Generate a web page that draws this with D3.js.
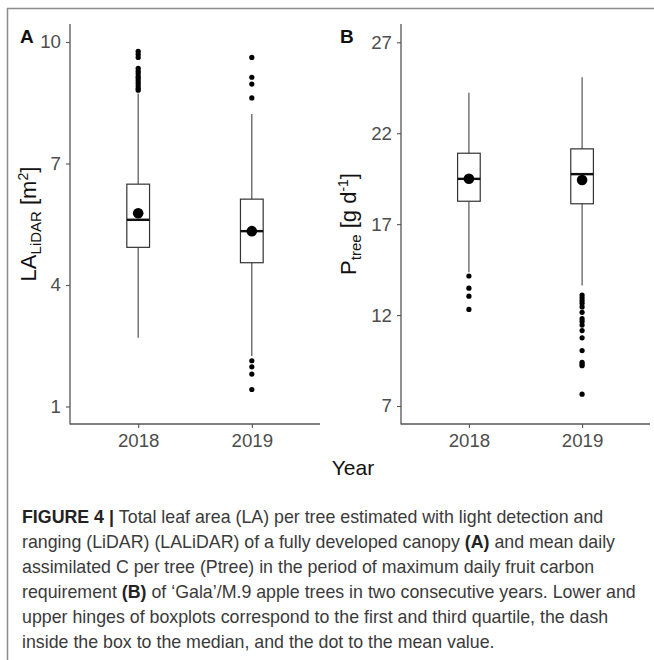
<!DOCTYPE html>
<html lang="en">
<head>
<meta charset="UTF-8">
<script src="https://d3js.org/d3.v7.min.js"></script>
<style>
  body { margin: 0; background: #fff; }
  text { font-family: "Liberation Sans", Arial, sans-serif; }
</style>
<title>Figure 4</title>
</head>
<body>
<div id="chart"></div>
<script>
    //Data
    const years = ["2018", "2019"];
    // panel A: LA LiDAR [m2]
    const laLower = [2.70, 2.25];
    const laQ1 = [4.93, 4.55];
    const laMedian = [5.61, 5.33];
    const laQ3 = [6.49, 6.12];
    const laUpper = [8.73, 8.22];
    const laMean = [5.77, 5.33];
    const laOut2018 = [9.77, 9.70, 9.62, 9.35, 9.28, 9.22, 9.15, 9.10, 9.04, 8.98, 8.92, 8.86, 8.81];
    const laOut2019 = [9.62, 9.13, 8.96, 8.62, 2.13, 1.98, 1.80, 1.42];
    const laTicks = [1, 4, 7, 10];
    // panel B: P tree [g d-1]
    const pLower = [14.35, 13.63];
    const pQ1 = [18.26, 18.12];
    const pMedian = [19.49, 19.75];
    const pQ3 = [20.90, 21.14];
    const pUpper = [24.23, 25.08];
    const pMean = [19.50, 19.43];
    const pOut2018 = [14.15, 13.48, 13.04, 12.31];
    const pOut2019 = [13.10, 12.95, 12.80, 12.65, 12.45, 12.15, 11.80, 11.65, 11.45, 11.15, 10.75, 10.05, 9.40, 9.30, 9.22, 7.65];
    const pTicks = [7, 12, 17, 22, 27];

    const captionLines = [
        [["FIGURE 4 | ", true], ["Total leaf area (LA) per tree estimated with light detection and", false]],
        [["ranging (LiDAR) (LALiDAR) of a fully developed canopy ", false], ["(A)", true], [" and mean daily", false]],
        [["assimilated C per tree (Ptree) in the period of maximum daily fruit carbon", false]],
        [["requirement ", false], ["(B)", true], [" of \u2018Gala\u2019/M.9 apple trees in two consecutive years. Lower and", false]],
        [["upper hinges of boxplots correspond to the first and third quartile, the dash", false]],
        [["inside the box to the median, and the dot to the mean value.", false]]
    ];

    //Variable
    const width = 654;
    const height = 660;
    const plotTop = 24, plotBottom = 424;

    const svg = d3.select('#chart')
        .append('svg')
        .attr('width', width)
        .attr('height', height);

    //-Frame
    svg.append('line').attr('x1', 7.5).attr('x2', 7.5).attr('y1', 8).attr('y2', height)
        .attr('stroke', '#8c8c8c').attr('stroke-width', 1.5);
    svg.append('line').attr('x1', 7).attr('x2', width).attr('y1', 8.5).attr('y2', 8.5)
        .attr('stroke', '#8c8c8c').attr('stroke-width', 1.5);

    function panel(opt) {
        const g = svg.append('g');
        const x = d3.scalePoint().domain(years).range([opt.x0, opt.x1]).padding(0.6);
        const y = d3.scaleLinear().domain(opt.tickRef).range(opt.tickPx);
        const bw = x.step() * 0.2;

        //-Axes
        const yAxis = d3.axisLeft(y).tickValues(opt.ticks).tickSize(4).tickPadding(5).tickSizeOuter(0);
        const gy = g.append('g').attr('transform', `translate(${opt.x0},0)`).call(yAxis);
        gy.select('.domain').remove();
        g.append('line').attr('x1', opt.x0).attr('x2', opt.x0).attr('y1', plotTop).attr('y2', plotBottom + 0.6)
            .attr('stroke', '#555').attr('stroke-width', 1.3);
        const xAxis = d3.axisBottom(x).tickSize(4).tickPadding(6).tickSizeOuter(0);
        const gx = g.append('g').attr('transform', `translate(0,${plotBottom})`).call(xAxis);
        gx.select('.domain').remove();
        g.append('line').attr('x1', opt.x0).attr('x2', opt.x1).attr('y1', plotBottom).attr('y2', plotBottom)
            .attr('stroke', '#555').attr('stroke-width', 1.3);
        [gx, gy].forEach(a => {
            a.selectAll('.tick line').attr('stroke', '#555').attr('stroke-width', 1.1);
            a.selectAll('.tick text').attr('fill', '#4d4d4d').style('font-size', '18.7px');
        });

        //-Boxes
        const idx = years.map((d, i) => i);
        g.selectAll('.whisker').data(idx).enter().append('line')
            .attr('x1', i => x(years[i])).attr('x2', i => x(years[i]))
            .attr('y1', i => y(opt.upper[i])).attr('y2', i => y(opt.lower[i]))
            .attr('stroke', '#444').attr('stroke-width', 1.1);
        g.selectAll('.box').data(idx).enter().append('rect')
            .attr('x', i => x(years[i]) - bw / 2).attr('width', bw)
            .attr('y', i => y(opt.q3[i])).attr('height', i => y(opt.q1[i]) - y(opt.q3[i]))
            .attr('fill', '#fff').attr('stroke', '#333').attr('stroke-width', 1.2);
        g.selectAll('.median').data(idx).enter().append('line')
            .attr('x1', i => x(years[i]) - bw / 2).attr('x2', i => x(years[i]) + bw / 2)
            .attr('y1', i => y(opt.median[i])).attr('y2', i => y(opt.median[i]))
            .attr('stroke', '#111').attr('stroke-width', 2.4);
        const outs = [];
        opt.outliers.forEach((arr, i) => arr.forEach(v => outs.push([years[i], v])));
        g.selectAll('.out').data(outs).enter().append('circle')
            .attr('cx', o => x(o[0])).attr('cy', o => y(o[1])).attr('r', 2.6).attr('fill', '#000');
        g.selectAll('.mean').data(idx).enter().append('circle')
            .attr('cx', i => x(years[i])).attr('cy', i => y(opt.mean[i])).attr('r', 5.3).attr('fill', '#000');

        //-Panel letter
        g.append('text').attr('x', opt.letterX).attr('y', 43).text(opt.letter)
            .style('font-size', '19px').style('font-weight', 'bold').attr('fill', '#111');

        //-Y title
        const t = g.append('text')
            .attr('transform', `translate(${opt.titleX},${(plotTop + plotBottom) / 2}) rotate(-90)`)
            .attr('text-anchor', 'middle').attr('fill', '#111').style('font-size', '22px');
        opt.title(t);
    }

    panel({
        x0: 70, x1: 320, tickRef: [1, 10], tickPx: [406.5, 42], ticks: laTicks,
        lower: laLower, q1: laQ1, median: laMedian, q3: laQ3, upper: laUpper, mean: laMean,
        outliers: [laOut2018, laOut2019], letter: 'A', letterX: 20, titleX: 36,
        title: t => {
            t.append('tspan').text('LA');
            t.append('tspan').text('LiDAR').attr('dy', 5).style('font-size', '15px');
            t.append('tspan').text(' [m').attr('dy', -5);
            t.append('tspan').text('2').attr('dy', -8).style('font-size', '14px');
            t.append('tspan').text(']').attr('dy', 8);
        }
    });

    panel({
        x0: 401, x1: 650, tickRef: [7, 27], tickPx: [406, 42.3], ticks: pTicks,
        lower: pLower, q1: pQ1, median: pMedian, q3: pQ3, upper: pUpper, mean: pMean,
        outliers: [pOut2018, pOut2019], letter: 'B', letterX: 340, titleX: 356,
        title: t => {
            t.append('tspan').text('P');
            t.append('tspan').text('tree').attr('dy', 5).style('font-size', '15px');
            t.append('tspan').text(' [g d').attr('dy', -5);
            t.append('tspan').text('-1').attr('dy', -8).style('font-size', '14px');
            t.append('tspan').text(']').attr('dy', 8);
        }
    });

    //-X title
    svg.append('text').attr('x', 353).attr('y', 475).attr('text-anchor', 'middle')
        .attr('fill', '#111').style('font-size', '21px').text('Year');

    //-Caption
    const cap = svg.append('g');
    captionLines.forEach((line, i) => {
        const t = cap.append('text').attr('x', 22).attr('y', 523 + i * 25)
            .attr('fill', '#3a3a3a').style('font-size', '17.8px');
        line.forEach(p => t.append('tspan').text(p[0]).style('font-weight', p[1] ? 'bold' : 'normal')
            .attr('fill', p[1] ? '#222' : '#3a3a3a'));
    });
</script>
</body>
</html>
